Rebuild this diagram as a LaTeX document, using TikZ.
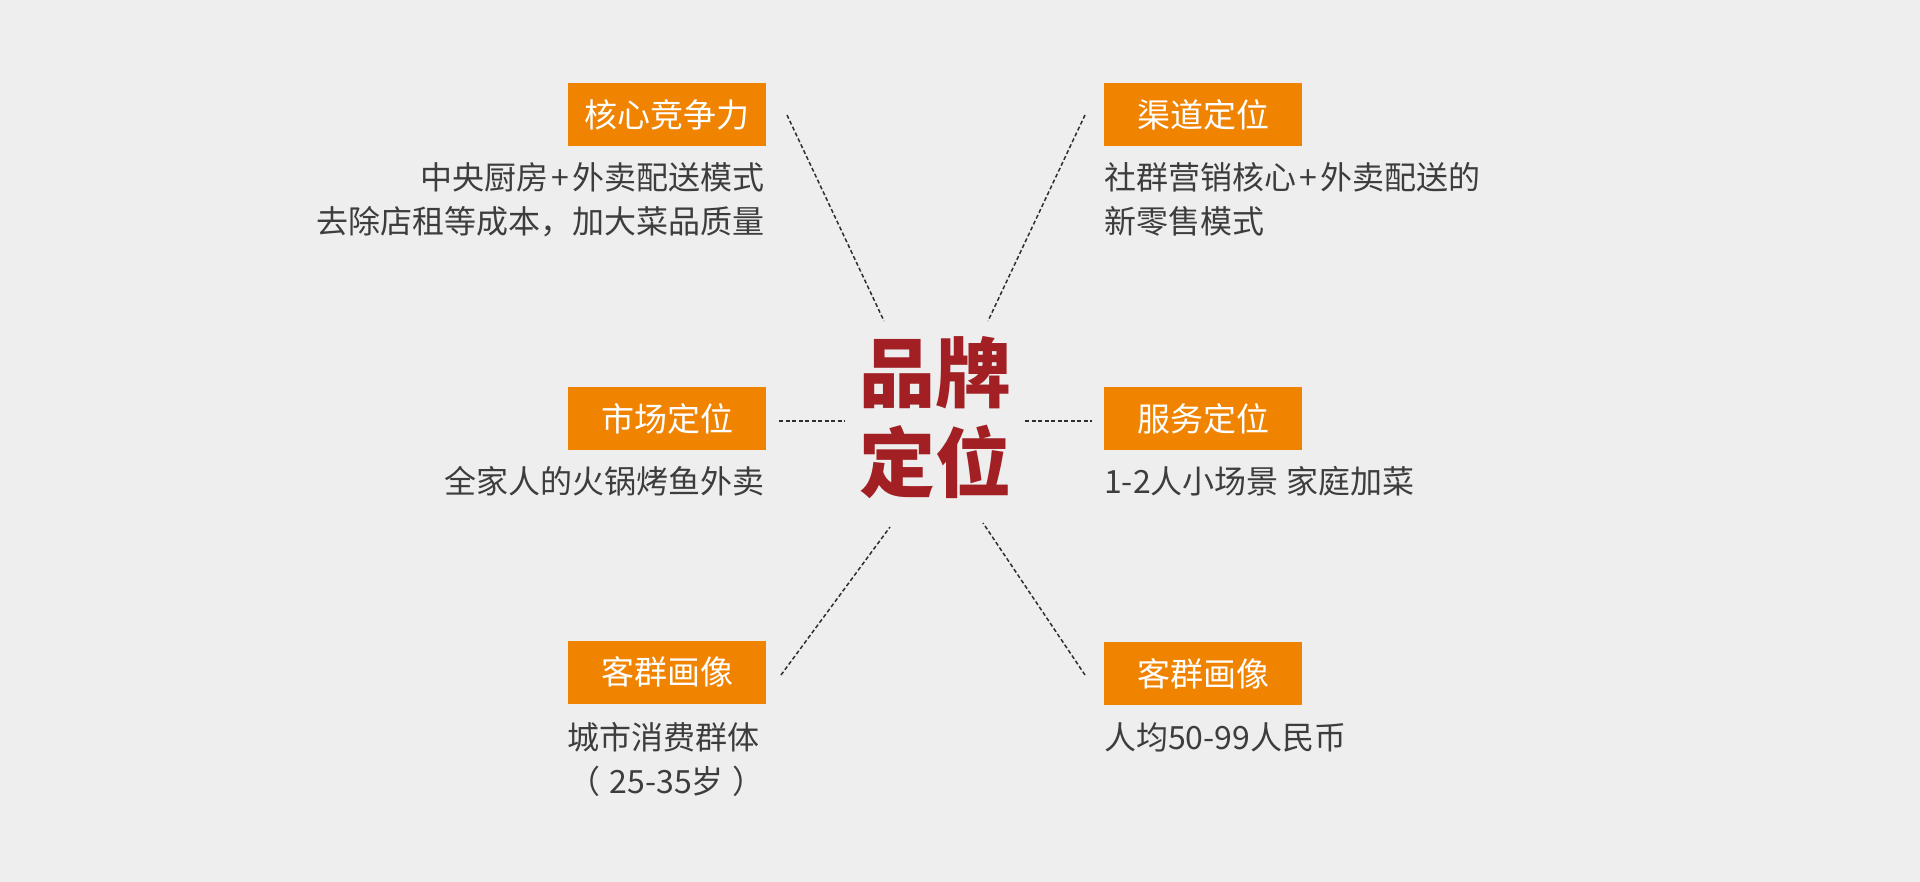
\documentclass[tikz,border=0pt]{standalone}
\usepackage{fontspec}
\setmainfont{Noto Sans CJK SC}
\definecolor{bg}{HTML}{EEEEEE}
\definecolor{org}{HTML}{F08300}
\definecolor{brand}{HTML}{A21F24}
\definecolor{txt}{HTML}{3D3D3D}
\definecolor{lin}{HTML}{2E2E2E}
\newcommand{\pls}{\hspace{3.5pt}+\hspace{3.5pt}}
\begin{document}
\begin{tikzpicture}[x=1pt,y=-1pt,
  tag/.style={fill=org, text=white, minimum width=198pt, minimum height=63pt, inner sep=0pt, font=\fontsize{33}{40}\selectfont},
  body/.style={text=txt, inner sep=0pt, font=\fontsize{32}{44}\selectfont},
  link/.style={draw=lin, line width=1.5pt, dash pattern=on 4pt off 2.5pt}]
\fill[bg] (0,0) rectangle (1920,882);
\useasboundingbox (0,0) rectangle (1920,882);

% centre
\node[text=brand, inner sep=0pt, align=center, font=\fontsize{76}{90}\selectfont\bfseries] (brand) at (935,418) {品牌\\定位};

% left column
\node[tag] (t1) at (667,114.5) {核心竞争力};
\node[body, align=right, anchor=north east] (b1) at (765,162) {中央厨房\pls 外卖配送模式\\去除店租等成本，加大菜品质量};
\node[tag] (t2) at (667,418.5) {市场定位};
\node[body, anchor=north east] (b2) at (765,466) {全家人的火锅烤鱼外卖};
\node[tag] (t3) at (667,672) {客群画像};
\node[body, align=center, anchor=north east] (b3) at (765,722) {城市消费群体\\\hspace{6pt}（\hspace{9pt}25-35岁\hspace{9pt}）};

% right column
\node[tag] (t4) at (1203,114.5) {渠道定位};
\node[body, align=left, anchor=north west] (b4) at (1104,162) {社群营销核心\pls 外卖配送的\\新零售模式};
\node[tag] (t5) at (1203,418.5) {服务定位};
\node[body, anchor=north west] (b5) at (1104,466) {1-2人小场景 家庭加菜};
\node[tag] (t6) at (1203,673.5) {客群画像};
\node[body, anchor=north west] (b6) at (1104,722) {人均50-99人民币};

% connector end points
\coordinate (p1a) at (787,115);  \coordinate (p1b) at (884,321);
\coordinate (p4a) at (1085,115); \coordinate (p4b) at (988,321);
\coordinate (p2a) at (779,421);  \coordinate (p2b) at (845,421);
\coordinate (p5a) at (1025,421); \coordinate (p5b) at (1092,421);
\coordinate (p3a) at (781,675);  \coordinate (p3b) at (890,527);
\coordinate (p6a) at (1085,675); \coordinate (p6b) at (983,523);

\draw[link] (p1a) -- (p1b);
\draw[link] (p4a) -- (p4b);
\draw[link] (p2a) -- (p2b);
\draw[link] (p5a) -- (p5b);
\draw[link] (p3a) -- (p3b);
\draw[link] (p6a) -- (p6b);
\end{tikzpicture}
\end{document}
